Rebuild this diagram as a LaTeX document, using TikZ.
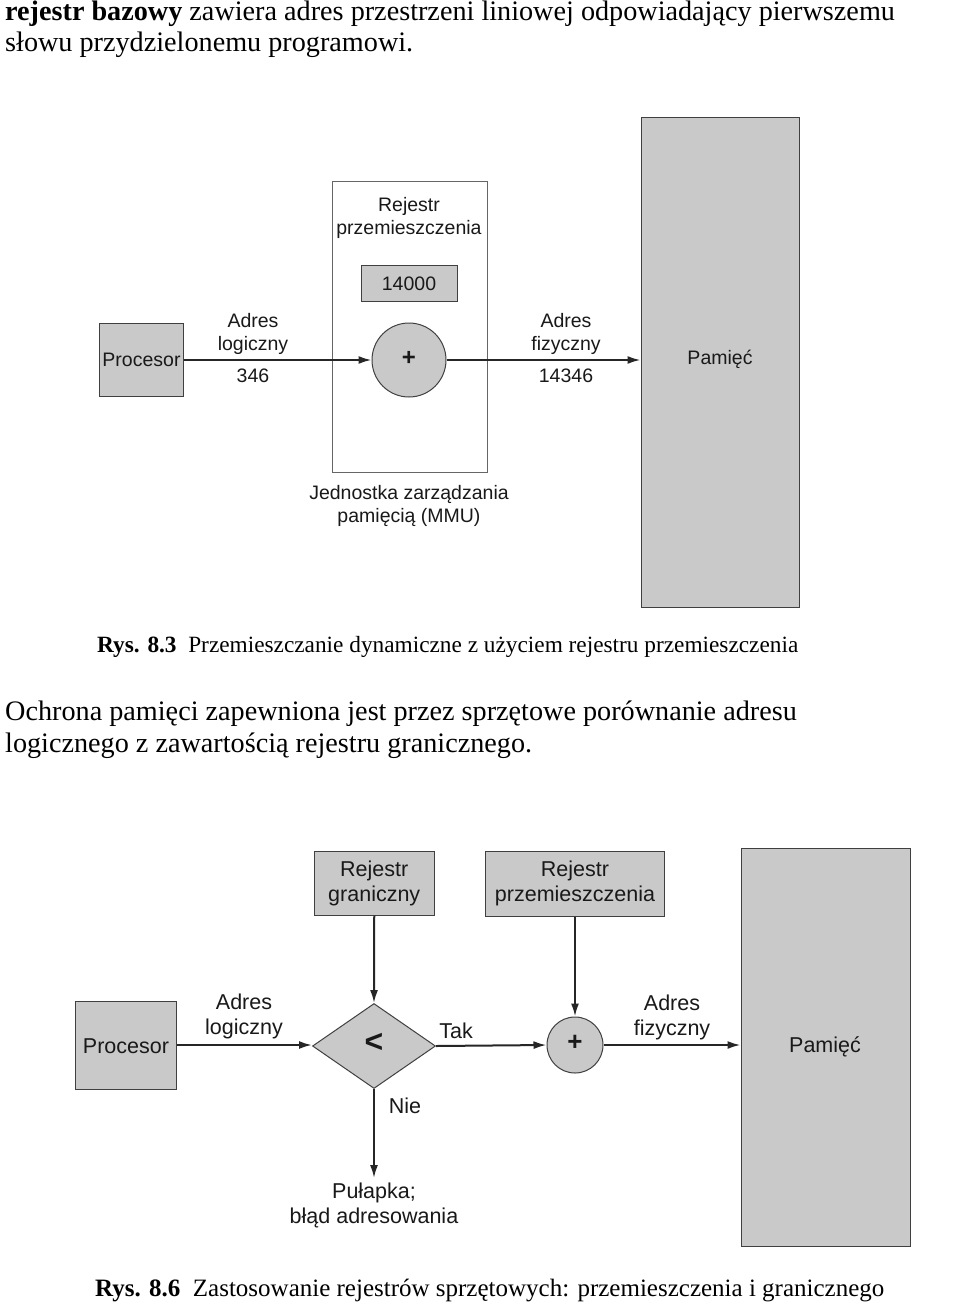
\documentclass[tikz,border=0pt]{standalone}
\usepackage{fontspec}
\setmainfont{Liberation Serif}
\setsansfont{Liberation Sans}
\usetikzlibrary{arrows.meta,shapes.geometric}
\begin{document}
\begin{tikzpicture}[x=1pt,y=-1pt,
  body/.style={font=\rmfamily\fontsize{28.2}{32}\selectfont, anchor=base west, inner sep=0pt},
  captionA/.style={font=\rmfamily\fontsize{23.3}{26}\selectfont, anchor=base west, inner sep=0pt},
  captionB/.style={font=\rmfamily\fontsize{25}{28}\selectfont, anchor=base west, inner sep=0pt},
  dA/.style={font=\sffamily\fontsize{19.5}{23}\selectfont, text=black!90, align=center, inner sep=0pt},
  dB/.style={font=\sffamily\fontsize{21.5}{25}\selectfont, text=black!90, align=center, inner sep=0pt},
  graybox/.style={draw=black!75, line width=1pt, fill=black!21, inner sep=0pt},
  conn/.style={draw=black!85, line width=2pt, -{Latex[length=13pt,width=8pt]}},
]
\useasboundingbox (0,0) rectangle (960,1314);
\fill[white] (0,0) rectangle (960,1314);

% ---- top text
\node[body] (t1) at (5,21) {\textbf{rejestr bazowy} zawiera adres przestrzeni liniowej odpowiadający pierwszemu};
\node[body] (t2) at (5,52) {słowu przydzielonemu programowi.};

% ---- diagram 1
\node[draw=black!60, line width=1pt, minimum width=155pt, minimum height=291pt, inner sep=0pt] (mmu) at (409.5,326.5) {};
\node[graybox, minimum width=84pt, minimum height=73pt] (proc1) at (141.5,360) {};
\node[dA] at (141.5,360) {Procesor};
\node[dA] (rej1) at (409,217.5) {Rejestr\\przemieszczenia};
\node[graybox, minimum width=96pt, minimum height=36pt] (reg1) at (409,283.5) {};
\node[dA] at (409,283.5) {14000};
\node[graybox, circle, minimum size=74pt] (plus1) at (409,360) {};
\node[dA, font=\sffamily\bfseries\fontsize{24}{24}\selectfont] at (409,358) {+};
\node[graybox, minimum width=158pt, minimum height=490pt] (mem1) at (720,362) {};
\node[dA] at (720,359) {Pamięć};
\node[dA] (al1) at (253,333.5) {Adres\\logiczny};
\node[dA] (v1) at (253,376) {346};
\node[dA] (af1) at (566,333.5) {Adres\\fizyczny};
\node[dA] (v2) at (566,376) {14346};
\node[dA] (mmul) at (409,506) {Jednostka zarządzania\\pamięcią (MMU)};
\draw[conn] (proc1.east) -- (plus1.west);
\draw[conn] (plus1.east) -- (plus1.east -| mem1.west);

\node[captionA] (c1) at (97,652) {\textbf{Rys. 8.3}\ \ Przemieszczanie dynamiczne z użyciem rejestru przemieszczenia};

% ---- middle text
\node[body] (t3) at (5,720) {Ochrona pamięci zapewniona jest przez sprzętowe porównanie adresu};
\node[body] (t4) at (5,752) {logicznego z zawartością rejestru granicznego.};

% ---- diagram 2
\node[graybox, minimum width=119.5pt, minimum height=64pt] (rg) at (374.25,883) {};
\node[dB] at (374.25,883) {Rejestr\\graniczny};
\node[graybox, minimum width=178.5pt, minimum height=65pt] (rp) at (575,883.5) {};
\node[dB] at (575,883.5) {Rejestr\\przemieszczenia};
\node[graybox, minimum width=101.5pt, minimum height=88pt] (proc2) at (126,1045) {};
\node[dB] at (126,1046) {Procesor};
\node[graybox, diamond, aspect=1.45, minimum width=123pt, minimum height=85pt] (dia) at (374,1046) {};
\node[dB, font=\sffamily\bfseries\fontsize{32}{32}\selectfont] at (374,1043) {<};
\node[graybox, circle, minimum size=56pt] (plus2) at (575,1045) {};
\node[dB, font=\sffamily\bfseries\fontsize{26}{26}\selectfont] at (575,1043) {+};
\node[graybox, minimum width=169pt, minimum height=398pt] (mem2) at (825.5,1047) {};
\node[dB] at (825,1047) {Pamięć};
\coordinate (trap) at (374,1178);
\node[dB] (al2) at (244,1016) {Adres\\logiczny};
\node[dB] (tak) at (456,1031) {Tak};
\node[dB] (af2) at (672,1017) {Adres\\fizyczny};
\node[dB] (nie) at (405,1106) {Nie};
\node[dB] (trapl) at (374,1205.5) {Pułapka;\\błąd adresowania};
\draw[conn] (rg.south) -- (dia.north);
\draw[conn] (rp.south) -- (plus2.north);
\draw[conn] (proc2.east) -- (proc2.east -| dia.west);
\draw[conn] (dia.east) -- (plus2.west);
\draw[conn] (plus2.east) -- (plus2.east -| mem2.west);
\draw[conn] (dia.south) -- (trap);

\node[captionB] (c2) at (95,1296) {\textbf{Rys. 8.6}\ \ Zastosowanie rejestrów sprzętowych: przemieszczenia i granicznego};
\end{tikzpicture}
\end{document}
